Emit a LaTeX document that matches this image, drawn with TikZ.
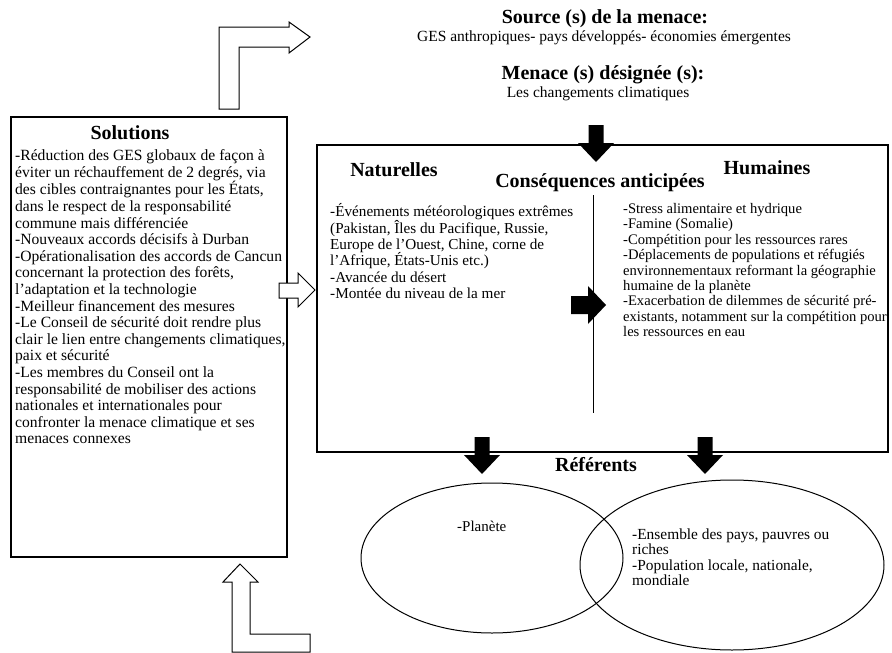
\documentclass[tikz,border=0pt]{standalone}
\usepackage{fontspec}
\setmainfont{Liberation Serif}

\tikzset{
  headtxt/.style={font=\fontsize{20}{22}\selectfont\bfseries, inner sep=0},
  smalltxt/.style={font=\fontsize{15.5}{17}\selectfont, inner sep=0},
  bodytxt/.style={align=left, inner sep=0, anchor=north west, execute at begin node=\strut},
  hollow/.style={line width=1, fill=white, line join=miter},
}

\begin{document}
\begin{tikzpicture}[x=1pt,y=-1pt]

\useasboundingbox (0,0) rectangle (892,653);

% boxes and divider
\draw [line width=1.2] (11,117) rectangle (287,557);
\draw [line width=1.2] (317,145) rectangle (888,452);
\draw [line width=1] (593,195) -- (593,413);

% referents
\draw [line width=1] (492,558) ellipse (131 and 75);
\draw [line width=1] (732,565) ellipse (152 and 85);

% hollow arrows
\draw [hollow] (219,109) -- (219,27) -- (289,27) -- (289,22) -- (310,37) -- (289,53) -- (289,47) -- (239,47) -- (239,109) -- cycle;
\draw [hollow] (232,652) -- (232,582) -- (223,582) -- (240,564) -- (258,582) -- (250,582) -- (250,634) -- (310,634) -- (310,652) -- cycle;
\draw [hollow] (279,283) -- (298,283) -- (298,273) -- (315,290) -- (298,307) -- (298,298) -- (279,298) -- cycle;

% black arrows
\foreach \cx/\ty in {596/125,482/437,705/437}
  \fill (\cx-7.5,\ty) -- (\cx+7.5,\ty) -- (\cx+7.5,\ty+18) -- (\cx+18,\ty+18) -- (\cx,\ty+37) -- (\cx-18,\ty+18) -- (\cx-7.5,\ty+18) -- cycle;
\fill (571,296) -- (588,296) -- (588,286) -- (606,305) -- (588,324) -- (588,314) -- (571,314) -- cycle;

% menace
\node [headtxt] (source) at (605,19) {Source (s) de la menace:};
\node [smalltxt] (sourcetxt) at (604,38) {GES anthropiques- pays développés- économies émergentes};
\node [headtxt] (menace) at (603,75) {Menace (s) désignée (s):};
\node [smalltxt] (menacetxt) at (598,94) {Les changements climatiques};

% solutions
\node [headtxt] (solutions) at (130,133) {Solutions};
\node [bodytxt, font=\fontsize{15.6}{16.6}\selectfont] (solutionstxt) at (15,149.4) {-Réduction des GES globaux de façon à\\
éviter un réchauffement de 2 degrés, via\\
des cibles contraignantes pour les États,\\
dans le respect de la responsabilité\\
commune mais différenciée\\
-Nouveaux accords décisifs à Durban\\
-Opérationalisation des accords de Cancun\\
concernant la protection des forêts,\\
l’adaptation et la technologie\\
-Meilleur financement des mesures\\
-Le Conseil de sécurité doit rendre plus\\
clair le lien entre changements climatiques,\\
paix et sécurité\\
-Les membres du Conseil ont la\\
responsabilité de mobiliser des actions\\
nationales et internationales pour\\
confronter la menace climatique et ses\\
menaces connexes};

% consequences
\node [headtxt] (naturelles) at (394,170) {Naturelles};
\node [headtxt] (humaines) at (767,168) {Humaines};
\node [headtxt] (consequences) at (600,183) {Conséquences anticipées};
\node [bodytxt, font=\fontsize{15.2}{16.4}\selectfont] (naturellestxt) at (330,203.5) {-Événements météorologiques extrêmes\\
(Pakistan, Îles du Pacifique, Russie,\\
Europe de l’Ouest, Chine, corne de\\
l’Afrique, États-Unis etc.)\\
-Avancée du désert\\
-Montée du niveau de la mer};
\node [bodytxt, font=\fontsize{14.6}{15.4}\selectfont] (humainestxt) at (623,203.2) {-Stress alimentaire et hydrique\\
-Famine (Somalie)\\
-Compétition pour les ressources rares\\
-Déplacements de populations et réfugiés\\
environnementaux reformant la géographie\\
humaine de la planète\\
-Exacerbation de dilemmes de sécurité pré-\\
existants, notamment sur la compétition pour\\
les ressources en eau};

% referents
\node [headtxt] (referents) at (596,465) {Référents};
\node [bodytxt, font=\fontsize{15}{15.5}\selectfont] (planete) at (457,520.6) {-Planète};
\node [bodytxt, font=\fontsize{15.4}{15.5}\selectfont] (pays) at (632,528.2) {-Ensemble des pays, pauvres ou\\
riches\\
-Population locale, nationale,\\
mondiale};

\end{tikzpicture}
\end{document}
